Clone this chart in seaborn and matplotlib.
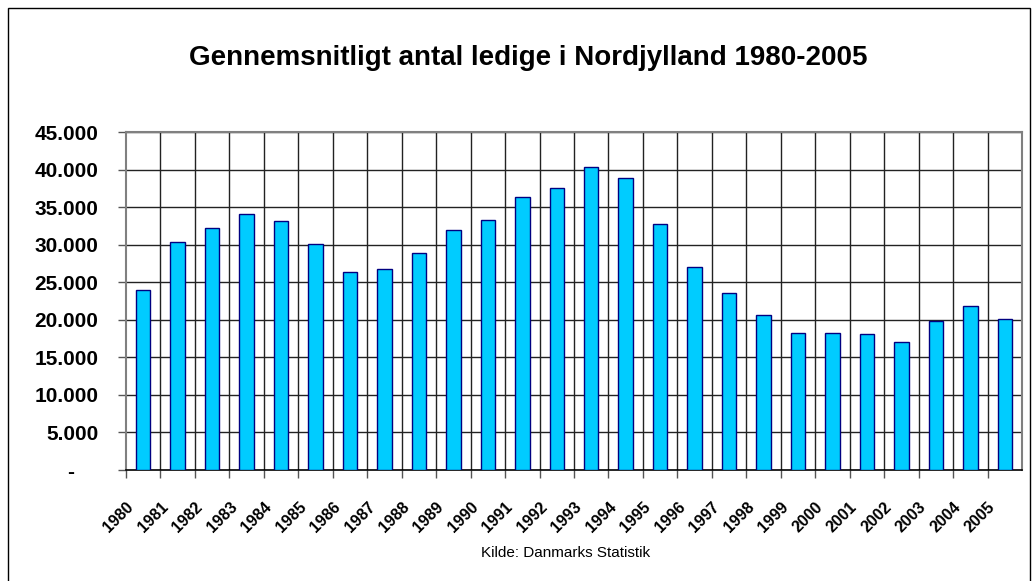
import matplotlib
matplotlib.use("Agg")
import matplotlib.pyplot as plt
import seaborn as sns
import pandas as pd
from matplotlib.patches import Rectangle
from matplotlib.ticker import FuncFormatter

# Average number of unemployed in Nordjylland per year
years = [str(y) for y in range(1980, 2006)]
ledige = [24000, 30300, 32200, 34100, 33200, 30100, 26300, 26700, 28900, 31900,
          33300, 36300, 37500, 40400, 38900, 32800, 27000, 23600, 20700, 18200,
          18200, 18100, 17100, 19900, 21800, 20100]
yticks = list(range(0, 45001, 5000))

title = "Gennemsnitligt antal ledige i Nordjylland 1980-2005"
source = "Kilde: Danmarks Statistik"

df = pd.DataFrame({"aar": years, "ledige": ledige})

sns.set_style("white")
plt.rcParams['font.family'] = ['Liberation Sans', 'DejaVu Sans']
plt.rcParams['text.color'] = 'black'
plt.rcParams['xtick.labelcolor'] = 'black'
plt.rcParams['ytick.labelcolor'] = 'black'

fig = plt.figure(figsize=(10.32, 5.81), dpi=100)
ax = fig.add_axes([126 / 1032, 1 - 470 / 581, 896 / 1032, 338 / 581])

sns.barplot(data=df, x="aar", y="ledige", color="#00CCFF", saturation=1,
            width=0.42, edgecolor="#000080", linewidth=1, ax=ax, zorder=3)

n = len(years)
ax.set_xlim(-0.5, n - 0.5)
ax.set_ylim(0, 45000)

# grid: vertical lines at category boundaries, horizontal every 5000
for i in range(1, n):
    ax.axvline(i - 0.5, color="#222222", lw=1, zorder=1)
for v in yticks[1:]:
    ax.axhline(v, color="#222222", lw=1, zorder=1)

ax.set_yticks(yticks)
ax.yaxis.set_major_formatter(FuncFormatter(
    lambda v, p: "-    " if v == 0 else f"{int(v):,}".replace(",", ".")))
ax.set_xticks([i - 0.5 for i in range(n)])
ax.set_xticklabels(years, rotation=45, ha="right", va="top", rotation_mode="anchor")

ax.tick_params(axis="y", direction="out", length=6, width=1, color="#555555",
               labelsize=15, pad=14, left=True, labelcolor="black")
ax.tick_params(axis="x", direction="out", length=6, width=1, color="#555555",
               labelsize=11.5, pad=15, bottom=True, labelcolor="black")
for lbl in ax.get_yticklabels() + ax.get_xticklabels():
    lbl.set_fontweight("bold")

for side in ["left", "top", "right"]:
    ax.spines[side].set_visible(True)
    ax.spines[side].set_color("#808080")
    ax.spines[side].set_linewidth(1.5)
ax.spines["bottom"].set_color("black")
ax.spines["bottom"].set_linewidth(1.2)
ax.set_xlabel("")
ax.set_ylabel("")

fig.text(528 / 1032, 1 - 58 / 581, title, ha="center", va="center",
         fontsize=20, fontweight="bold", color="black")
fig.text(566 / 1032, 1 - 553 / 581, source, ha="center", va="center",
         fontsize=11, color="black")

# outer chart frame
fig.patches.append(Rectangle((8 / 1032, -0.01), 1022 / 1032, 1 - 8 / 581 + 0.01,
                             transform=fig.transFigure, fill=False,
                             edgecolor="black", lw=1))

fig.savefig("out.png", dpi=100)
